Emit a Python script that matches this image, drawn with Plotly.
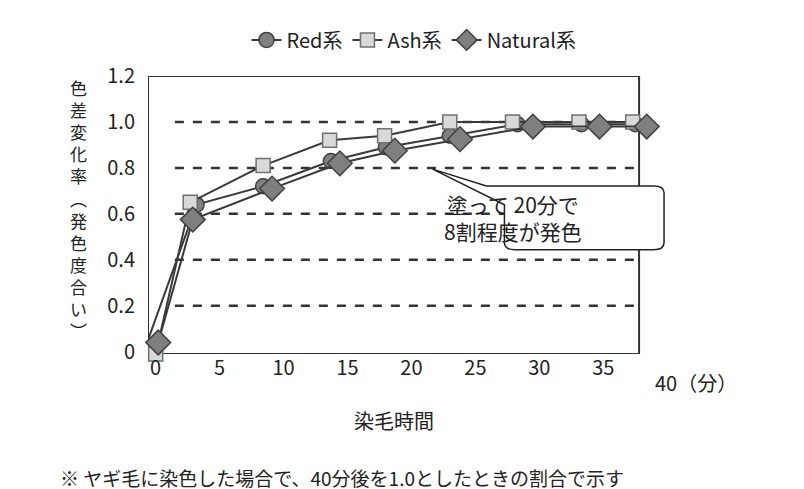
import plotly.graph_objects as go

red_x = [-0.8, 3.2, 8.4, 13.7, 18.0, 23.0, 28.3, 33.3, 37.5]
red_y = [0.02, 0.64, 0.72, 0.83, 0.89, 0.94, 0.99, 0.99, 0.99]
ash_x = [0.0, 2.7, 8.4, 13.6, 17.9, 23.0, 27.9, 33.1, 37.3]
ash_y = [-0.01, 0.65, 0.81, 0.92, 0.94, 1.0, 1.0, 1.0, 1.0]
nat_x = [0.2, 2.9, 9.1, 14.4, 18.7, 23.8, 29.5, 34.7, 38.4]
nat_y = [0.04, 0.575, 0.71, 0.82, 0.875, 0.925, 0.98, 0.98, 0.98]

x_ticks = [0, 5, 10, 15, 20, 25, 30, 35]
y_ticks = [0, 0.2, 0.4, 0.6, 0.8, 1.0, 1.2]
y_labels = ["0", "0.2", "0.4", "0.6", "0.8", "1.0", "1.2"]

FONT = "Noto Sans CJK JP"
LINE = dict(color="#3a3a3a", width=2)

fig = go.Figure()
fig.add_trace(go.Scatter(x=red_x, y=red_y, name="Red系", mode="lines+markers", line=LINE,
                         marker=dict(symbol="circle", size=15, color="#808080",
                                     line=dict(color="#404040", width=1.5)), cliponaxis=False))
fig.add_trace(go.Scatter(x=ash_x, y=ash_y, name="Ash系", mode="lines+markers", line=LINE,
                         marker=dict(symbol="square", size=14, color="#d9d9d9",
                                     line=dict(color="#707070", width=1.5)), cliponaxis=False))
fig.add_trace(go.Scatter(x=nat_x, y=nat_y, name="Natural系", mode="lines+markers", line=LINE,
                         marker=dict(symbol="diamond", size=19, color="#7f7f7f",
                                     line=dict(color="#404040", width=1.5)), cliponaxis=False))

# 枠線
fig.add_shape(type="rect", x0=-0.6, x1=37.8, y0=-0.01, y1=1.2,
              line=dict(color="#333", width=2), layer="below")
# 破線グリッド
for v in y_ticks[1:-1]:
    fig.add_shape(type="line", x0=1.5, x1=37.4, y0=v, y1=v,
                  line=dict(color="#333", width=2.5, dash="dash"), layer="below")

# 吹き出し
fig.add_shape(type="path", xref="paper", yref="paper",
              path="M 0.636 0.604 L 0.95 0.604 Q 0.97 0.604 0.97 0.58 L 0.97 0.40 "
                   "Q 0.97 0.375 0.95 0.375 L 0.69 0.375 Q 0.67 0.375 0.67 0.40 "
                   "L 0.67 0.537 L 0.535 0.665 Z",
              fillcolor="white", line=dict(color="#222", width=1.5))
fig.add_annotation(xref="paper", yref="paper", x=0.82, y=0.49, showarrow=False,
                   text="塗って 20分で<br>8割程度が発色", font=dict(size=21, color="#222"))

fig.add_annotation(x=40, y=-0.01, yshift=-28, showarrow=False, xanchor="left", xshift=-14,
                   text="40（分）", font=dict(size=20, color="#222"))
fig.add_annotation(xref="paper", yref="paper", x=-0.15, y=0.52, showarrow=False,
                   text="<br>".join("色差変化率︵発色度合い︶"), font=dict(size=17, color="#222"))
fig.add_annotation(xref="paper", yref="paper", x=0.5, y=-0.3, showarrow=False,
                   text="染毛時間", font=dict(size=20, color="#222"), xshift=-20)
fig.add_annotation(xref="paper", yref="paper", x=-0.17, y=-0.5, showarrow=False, xanchor="left",
                   text="※ ヤギ毛に染色した場合で、40分後を1.0としたときの割合で示す",
                   font=dict(size=19, color="#222"))

fig.update_layout(
    width=804, height=489, margin=dict(l=140, r=132, t=63, b=143),
    plot_bgcolor="white", paper_bgcolor="white",
    font=dict(family=FONT, color="#222", size=20),
    showlegend=True,
    legend=dict(orientation="h", x=0.5, xanchor="center", y=1.2, yanchor="top",
                font=dict(size=20), itemwidth=30),
    xaxis=dict(range=[-0.6, 41], tickvals=x_ticks, showgrid=False, zeroline=False,
               showline=False, ticks=""),
    yaxis=dict(range=[-0.01, 1.2], tickvals=y_ticks, ticktext=y_labels, showgrid=False,
               zeroline=False, showline=False, ticks="", ticklabelstandoff=12),
)

fig.write_html("out.html")
